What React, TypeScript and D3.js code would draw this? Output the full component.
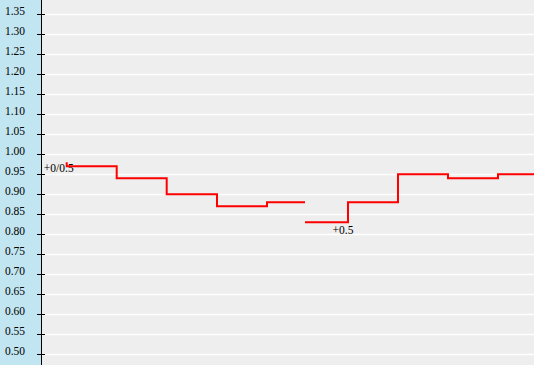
import React from "react";
import * as d3 from "d3";

const W = 534;
const H = 365;

const tickValues = [0.5, 0.55, 0.6, 0.65, 0.7, 0.75, 0.8, 0.85, 0.9, 0.95, 1.0, 1.05, 1.1, 1.15, 1.2, 1.25, 1.3, 1.35];
const tickLabels = ["0.50", "0.55", "0.60", "0.65", "0.70", "0.75", "0.80", "0.85", "0.90", "0.95", "1.00", "1.05", "1.10", "1.15", "1.20", "1.25", "1.30", "1.35"];

// series 1 (first line "+0/0.5")
const s1Times = [4.94, 4.94, 14.94, 24.94, 35.0, 45.0, 52.6];
const s1Values = [0.98, 0.97, 0.94, 0.9, 0.87, 0.88, 0.88];
// series 2 (second line "+0.5")
const s2Times = [52.6, 61.2, 71.2, 81.2, 91.2, 98.4];
const s2Values = [0.83, 0.88, 0.95, 0.94, 0.95, 0.95];

const labelTexts = ["+0/0.5", "+0.5"];
const labelTimes = [3.35, 60.2];
const labelValues = [0.955, 0.8];

export default function App() {
  const axisX = 41.5;
  const x = d3.scaleLinear().domain([0, 98.4]).range([42, W]);
  const y = d3.scaleLinear().domain([0.5, 1.35]).range([354.3, 14.3]);

  const line = d3
    .line<[number, number]>()
    .x((d) => x(d[0]))
    .y((d) => y(d[1]))
    .curve(d3.curveStepAfter);

  const s1 = s1Times.map((t, i) => [t, s1Values[i]] as [number, number]);
  const s2 = s2Times.map((t, i) => [t, s2Values[i]] as [number, number]);

  const font = "'Liberation Serif', 'Times New Roman', serif";

  return (
    <svg
      width={W}
      height={H}
      style={{ position: "fixed", left: 0, top: 0, display: "block" }}
    >
      <rect x={0} y={0} width={W} height={H} fill="#eeeeee" />
      <rect x={0} y={0} width={axisX} height={H} fill="#c1e5f1" />
      {tickValues.map((v, i) => (
        <g key={i}>
          <line x1={42} x2={W} y1={Math.round(y(v)) + 0.5} y2={Math.round(y(v)) + 0.5} stroke="#ffffff" strokeWidth={1.3} />
          <line x1={37} x2={45} y1={Math.round(y(v)) + 0.5} y2={Math.round(y(v)) + 0.5} stroke="#000" strokeWidth={1} />
          <text
            x={25}
            y={y(v) + 0.8}
            textAnchor="end"
            fontFamily={font}
            fontSize={11.5}
            fill="#000"
          >
            {tickLabels[i]}
          </text>
        </g>
      ))}
      <line x1={axisX} x2={axisX} y1={0} y2={H} stroke="#000" strokeWidth={1} />
      {labelTexts.map((t, i) => (
        <text
          key={t}
          x={x(labelTimes[i])}
          y={y(labelValues[i])}
          textAnchor="middle"
          fontFamily={font}
          fontSize={11.5}
          fill="#000"
        >
          {t}
        </text>
      ))}
      <path d={line(s1) ?? ""} fill="none" stroke="#ff0000" strokeWidth={2} />
      <path d={line(s2) ?? ""} fill="none" stroke="#ff0000" strokeWidth={2} />
    </svg>
  );
}
